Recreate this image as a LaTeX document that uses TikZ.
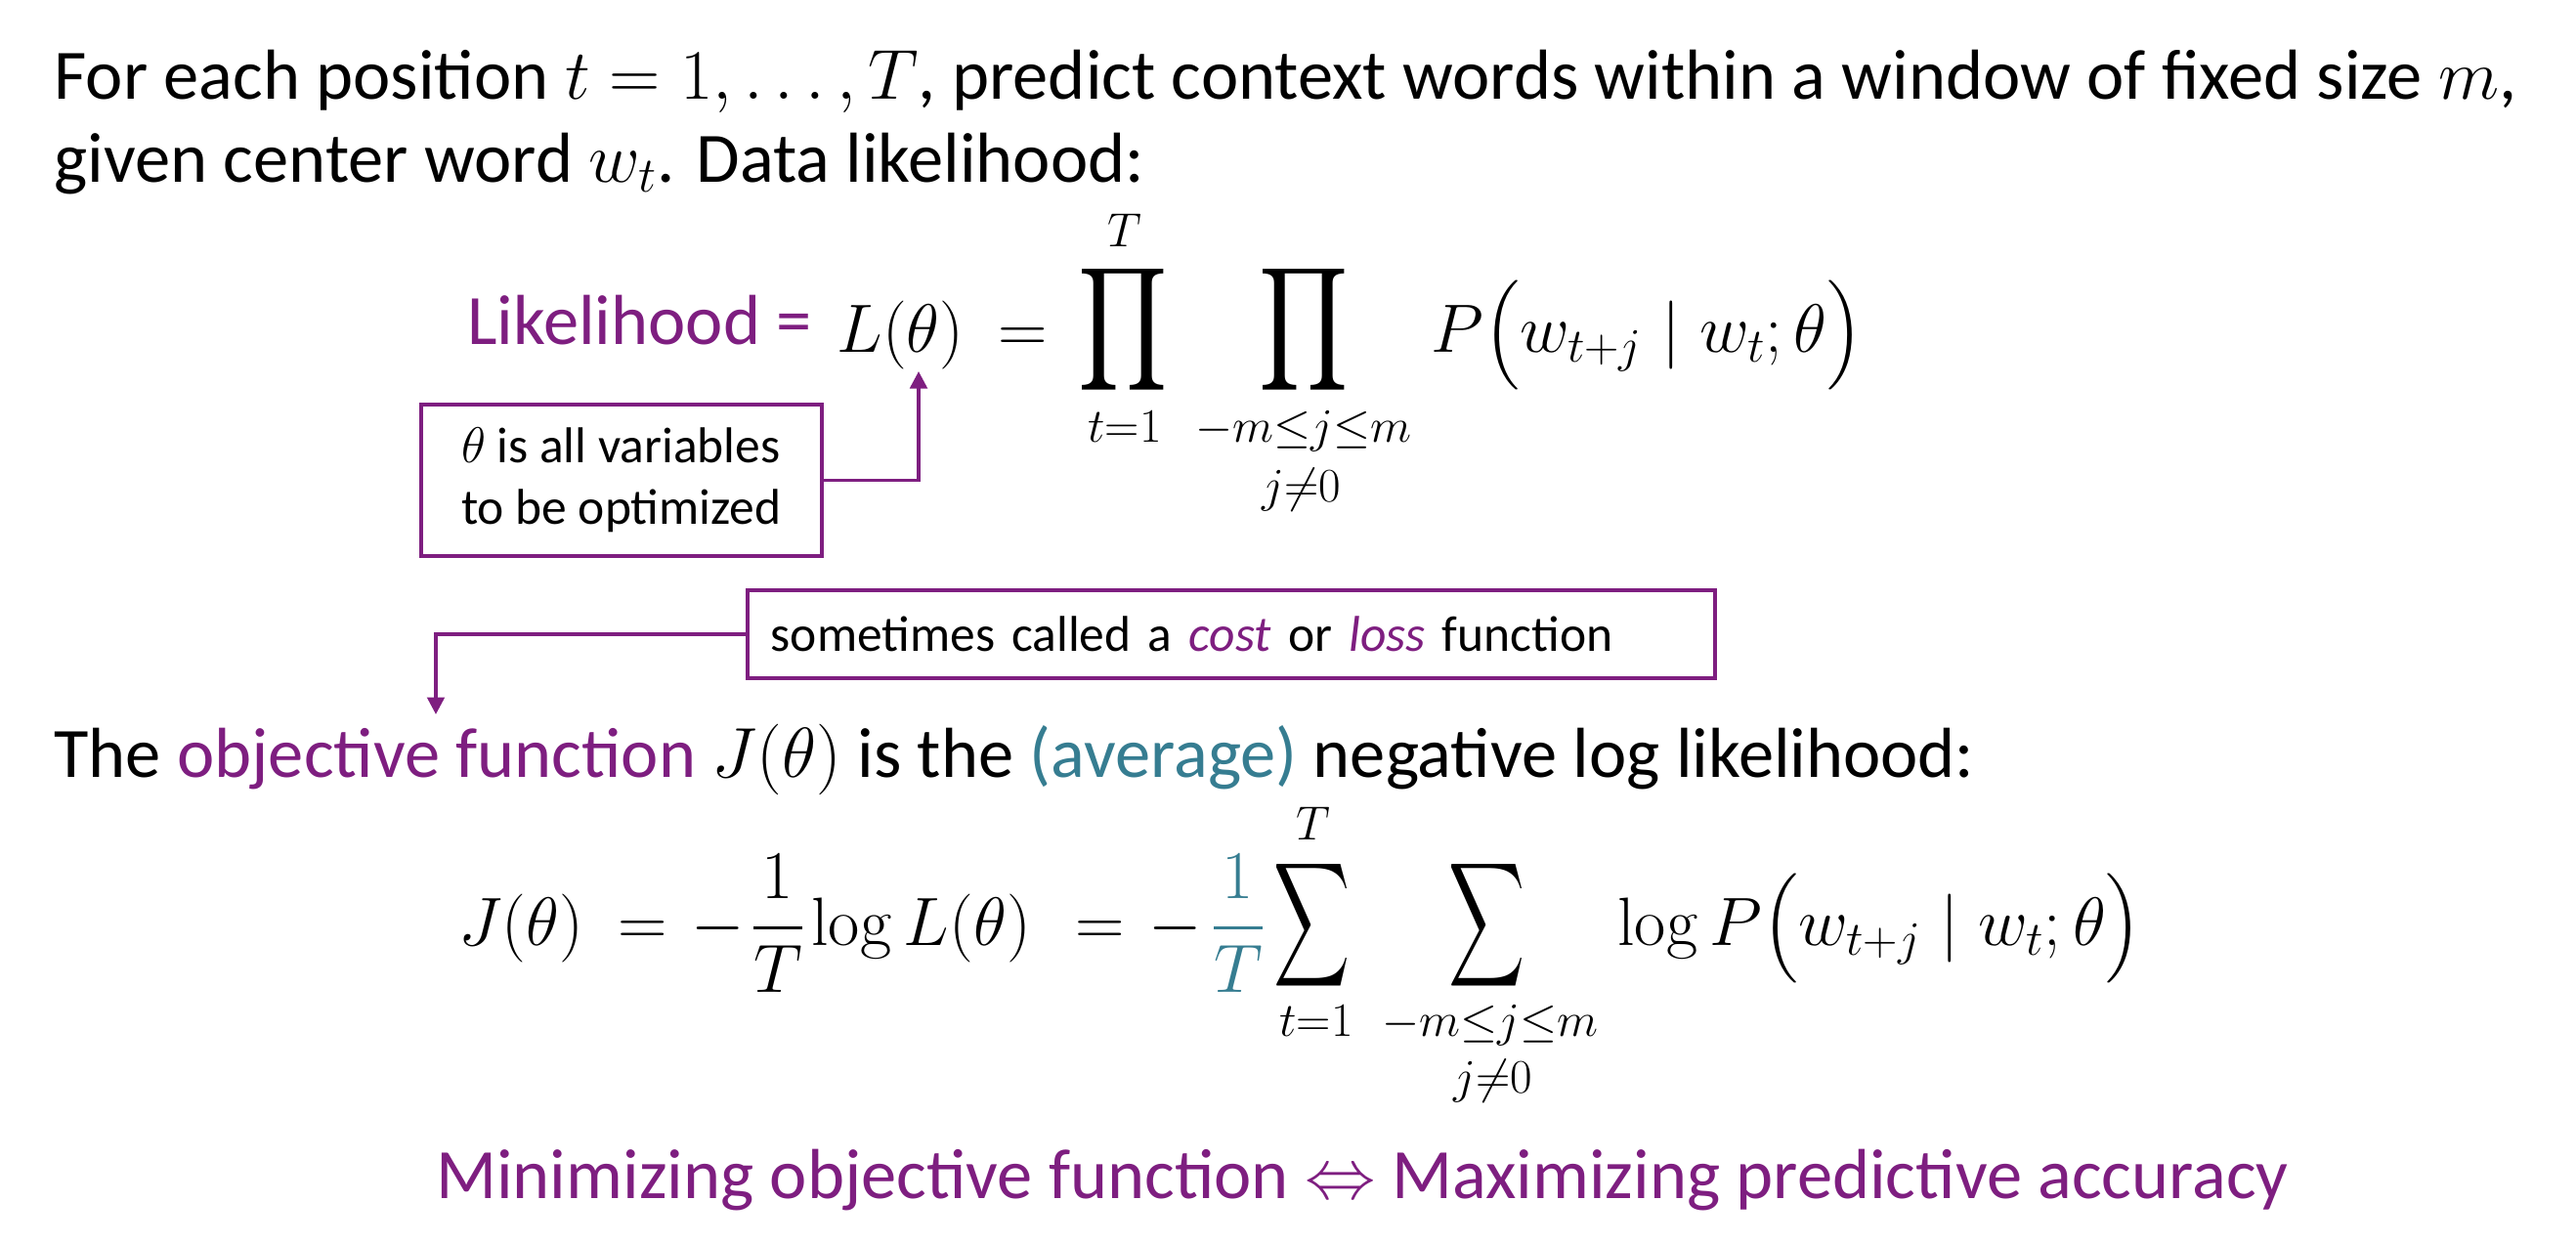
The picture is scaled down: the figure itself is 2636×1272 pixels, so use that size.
\RequirePackage{fix-cm}
\documentclass[tikz,border=0pt]{standalone}
\usepackage{amsmath}
\usepackage{graphicx}
\usepackage[no-math]{fontspec}
\setmainfont{Carlito}
\usetikzlibrary{arrows.meta}
\definecolor{likpurple}{RGB}{126,30,128}
\definecolor{avgteal}{RGB}{54,125,145}
\newcommand{\limtext}[1]{$\scriptstyle #1$}
\newcommand{\bigprodop}{\scalebox{1.15}[1.42]{$\displaystyle\prod$}}
\newcommand{\bigsumop}{\scalebox{0.87}[1.43]{$\displaystyle\sum$}}

\begin{document}
\begin{tikzpicture}[x=0.4pt,y=-0.4pt,
  txt/.style={inner sep=0pt,font=\fontsize{29}{35}\selectfont},
  mth/.style={inner sep=0pt,font=\fontsize{28}{34}\selectfont},
  notetext/.style={font=\fontsize{20.6}{25.2}\selectfont},
  notebox/.style={draw=likpurple,line width=1.4pt,notetext,align=left,anchor=north west,inner ysep=0pt},
  callout/.style={draw=likpurple,line width=1.4pt,-{Triangle[length=7pt,width=7pt]}}]
\useasboundingbox (0,0) rectangle (2636,1272);
% Intro text
\node[txt,anchor=base west] (intro1) at (55,102) {For each position $t=1,\ldots,T$, predict context words within a window of fixed size $m$,};
\node[txt,anchor=base west] (intro2) at (55,186) {given center word $w_t$. Data likelihood:};
% Likelihood formula
\node[txt,anchor=base west,text=likpurple] (likword) at (478,352) {Likelihood =};
\node[mth,anchor=base west] (Ltheta) at (856,360) {$L(\theta)$};
\node[mth,anchor=base] (eqL) at (1047,360) {$=$};
\node[mth] (prodt) at (1149,337) {\bigprodop};
\node[mth,anchor=base] (prodtTop) at (1151,252) {\limtext{T}};
\node[mth,anchor=base] (prodtBot) at (1151,452) {\limtext{t=1}};
\node[mth] (prodj) at (1334,337) {\bigprodop};
\node[mth,anchor=base] (prodjBot) at (1334,452) {\limtext{-m\le j\le m}};
\node[mth,anchor=base] (prodjNe) at (1332,513) {\limtext{j\ne 0}};
\node[mth,anchor=base west] (probL) at (1464,360) {$P\bigl(w_{t+j}\mid w_t;\theta\bigr)$};
% Note on theta
\node[notebox,minimum width=164pt,minimum height=62pt] (thetabox) at (429,412) {$\theta$ is all variables\\to be optimized};
\coordinate (thetatip) at (940,380);
\draw[callout] (thetabox.east) -| (thetatip);
% Note on cost
\node[notebox,minimum width=396pt,minimum height=36pt,text width=376.8pt,inner xsep=9.6pt] (costbox) at (763,602) {sometimes called a \textcolor{likpurple}{\textit{cost}} or \textcolor{likpurple}{\textit{loss}} function};
\coordinate (objtip) at (446,731);
\draw[callout] (costbox.west) -| (objtip);
% Objective text
\node[txt,anchor=base west] (objline) at (55,795) {The \textcolor{likpurple}{objective function} $J(\theta)$ is the \textcolor{avgteal}{(average)} negative log likelihood:};
% Objective formula
\node[mth,anchor=base west] (Jtheta) at (469,967) {$J(\theta)$};
\node[mth,anchor=base] (eqJa) at (658,967) {$=$};
\node[mth,anchor=base] (minusA) at (735,967) {$-$};
\node[mth,anchor=base] (fracA) at (796,967) {$\dfrac{1}{T}$};
\node[mth,anchor=base west] (logL) at (830,967) {$\log L(\theta)$};
\node[mth,anchor=base] (eqJb) at (1126,967) {$=$};
\node[mth,anchor=base] (minusB) at (1203,967) {$-$};
\node[mth,anchor=base,text=avgteal] (fracB) at (1267,967) {$\dfrac{1}{T}$};
\node[mth] (sumt) at (1343,947) {\bigsumop};
\node[mth,anchor=base] (sumtTop) at (1344,859) {\limtext{T}};
\node[mth,anchor=base] (sumtBot) at (1347,1060) {\limtext{t=1}};
\node[mth] (sumj) at (1522,947) {\bigsumop};
\node[mth,anchor=base] (sumjBot) at (1525,1060) {\limtext{-m\le j\le m}};
\node[mth,anchor=base] (sumjNe) at (1528,1118) {\limtext{j\ne 0}};
\node[mth,anchor=base west] (logP) at (1655,967) {$\log P\bigl(w_{t+j}\mid w_t;\theta\bigr)$};
% Summary
\node[txt,anchor=base,text=likpurple] (summary) at (1394,1226) {Minimizing objective function $\Leftrightarrow$ Maximizing predictive accuracy};
\end{tikzpicture}
\end{document}
